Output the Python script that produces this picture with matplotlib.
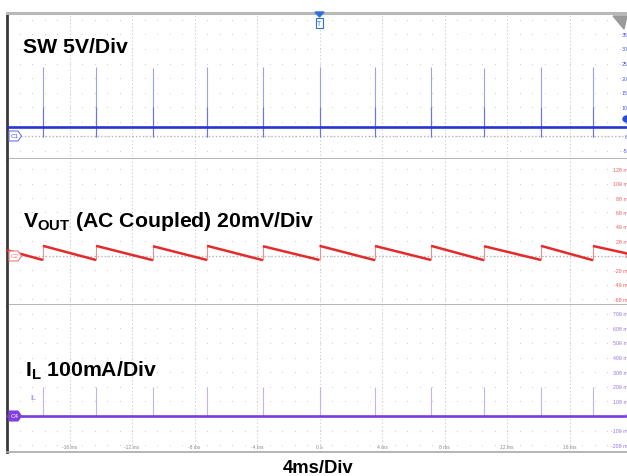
import numpy as np
import matplotlib
matplotlib.use("Agg")
import matplotlib.pyplot as plt
from matplotlib.patches import Polygon, Rectangle, Circle

# ---------------- data ----------------
# switching events (ms), shared by all three channels
event_t = [-17.70, -14.30, -10.66, -7.20, -3.62, 0.0, 3.55, 7.14, 10.53, 14.18, 17.50]

# SW channel (V)
sw_base = 3.1
sw_peak = [23.8, 23.8, 23.6, 23.8, 23.7, 23.8, 23.8, 23.7, 23.6, 23.7, 23.8]
sw_low = -0.3

# VOUT channel (mV, AC coupled) - level just before / just after each jump
vout_before = [-5.5, -5.5, -5.8, -5.5, -5.8, -5.5, -5.8, -5.5, -5.8, -5.5, -5.8]
vout_after = [14.0, 14.0, 13.5, 14.0, 13.5, 14.0, 13.8, 14.0, 13.5, 14.0, 13.8]
vout_start = 8.0    # at -20 ms
vout_end = 2.0      # at +20 ms

# IL channel (mA)
il_base = 0.0
il_peak = [199, 199, 198, 199, 198, 199, 199, 198, 199, 199, 199]

# axis scales / labels
t_min, t_max = -20.0, 20.0
time_ticks = [-16, -12, -8, -4, 0, 4, 8, 12, 16]
time_labels = ["-16 ms", "-12 ms", "-8 ms", "-4 ms", "0 s", "4 ms", "8 ms", "12 ms", "16 ms"]
sw_levels = [35, 30, 25, 20, 15, 10, 5, 0, -5]
sw_labels = ["35", "30", "25", "20", "15", "10", "5", "0", "-5"]
vout_levels = [120, 100, 80, 60, 40, 20, 0, -20, -40, -60]
vout_labels = ["120 m", "100 m", "80 m", "60 m", "40 m", "20 m", "0", "-20 m", "-40 m", "-60 m"]
il_levels = [700, 600, 500, 400, 300, 200, 100, 0, -100, -200]
il_labels = ["700 m", "600 m", "500 m", "400 m", "300 m", "200 m", "100 m", "0", "-100 m", "-200 m"]

# ---------------- figure ----------------
W, H = 627, 477
plt.rcParams['font.family'] = ['Liberation Sans', 'DejaVu Sans']
plt.rcParams['mathtext.fontset'] = 'custom'
plt.rcParams['mathtext.rm'] = 'Liberation Sans:bold'
plt.rcParams['mathtext.it'] = 'Liberation Sans:bold'
plt.rcParams['mathtext.bf'] = 'Liberation Sans:bold'

fig = plt.figure(figsize=(W / 100, H / 100), dpi=100)
fig.patch.set_facecolor('white')


def fx(px):
    return px / W


def fy(py):
    return 1 - py / H


ax_left, ax_right = 7, 632
panes = [(14, 160), (160, 306), (306, 453)]
axes = []
for top, bot in panes:
    ax = fig.add_axes([fx(ax_left), fy(bot), (ax_right - ax_left) / W, (bot - top) / H])
    ax.set_xlim(t_min, t_max)
    ax.set_xticks([])
    ax.set_yticks([])
    for s in ax.spines.values():
        s.set_visible(False)
    ax.spines['left'].set_visible(True)
    ax.spines['left'].set_color('#3a3a3a')
    ax.spines['left'].set_linewidth(2.0)
    ax.spines['bottom'].set_visible(True)
    ax.spines['bottom'].set_color('#a8a8a8')
    ax.spines['bottom'].set_linewidth(1.2)
    ax.set_facecolor('white')
    axes.append(ax)

ax1, ax2, ax3 = axes
ax1.spines['top'].set_visible(True)
ax1.spines['top'].set_color('#b8b8b8')
ax1.spines['top'].set_linewidth(2.2)

ax1.set_ylim(-7.9, 42.4)
ax2.set_ylim(-67.6, 133.8)
ax3.set_ylim(-247, 760)

minor_t = np.arange(t_min, t_max + 0.01, 0.8)
row_sets = [list(range(-5, 41, 5)), list(range(-60, 121, 20)), list(range(-200, 701, 100))]
for ax, rows in zip(axes, row_sets):
    for t in time_ticks:
        ax.axvline(t, color='#d2d2d2', lw=0.8, ls=(0, (1.2, 2.0)), zorder=1)
    tt, rr = np.meshgrid(minor_t, rows)
    ax.scatter(tt.ravel(), rr.ravel(), s=0.5, color='#cdcdcd', lw=0, zorder=1)

# zero reference lines
ax1.axhline(0, color='#b4b4b4', lw=1.0, ls=(0, (1, 1.5)), zorder=1)
ax2.axhline(0, color='#b4b4b4', lw=1.0, ls=(0, (1, 1.5)), zorder=1)

# ---------------- SW trace ----------------
ax1.vlines(event_t, sw_low, sw_peak, color='#9aa1f3', lw=0.8, zorder=2)
ax1.vlines(event_t, sw_low, 10, color='#6a74ea', lw=0.8, zorder=2)
ax1.plot([t_min, t_max], [sw_base, sw_base], color='#2636cf', lw=1.9, zorder=3)

# ---------------- VOUT trace ----------------
seg_start_t = [t_min] + event_t
seg_end_t = event_t + [t_max]
seg_start_v = [vout_start] + vout_after
seg_end_v = vout_before + [vout_end]
for t0, t1, v0, v1 in zip(seg_start_t, seg_end_t, seg_start_v, seg_end_v):
    ax2.plot([t0, t1], [v0, v1], color='#e42a2a', lw=1.8, zorder=3, solid_capstyle='butt')
ax2.vlines(event_t, vout_before, vout_after, color='#f29090', lw=0.8, zorder=2)

# ---------------- IL trace ----------------
ax3.vlines(event_t, il_base, il_peak, color='#c8aef3', lw=0.8, zorder=2)
ax3.plot([t_min, t_max], [il_base, il_base], color='#7a3ae0', lw=1.9, zorder=3)
ax3.text(-18.3, 123, "IL", fontsize=5, color='#a484e6', ha='center', va='center')

# ---------------- right scale labels ----------------
lab_t = (628 - 319.5) / 15.625
for v, s in zip(sw_levels, sw_labels):
    ax1.text(lab_t, v, s, fontsize=3.8, color='#4a58d6', ha='right', va='center', zorder=4)
for v, s in zip(vout_levels, vout_labels):
    ax2.text(lab_t, v, s, fontsize=3.8, color='#ee5a5a', ha='right', va='center', zorder=4)
for v, s in zip(il_levels, il_labels):
    ax3.text(lab_t, v, s, fontsize=3.8, color='#9a72e2', ha='right', va='center', zorder=4)

# time labels
for t, s in zip(time_ticks, time_labels):
    ax3.text(t, -212, s, fontsize=3.6, color='#8c8c8c', ha='center', va='center', zorder=4)

# ---------------- channel markers ----------------
def chan_marker(py, label, edge, face, tcolor):
    pts = [(9, py - 5), (18, py - 5), (21.5, py), (18, py + 5), (9, py + 5)]
    poly = Polygon([(fx(x), fy(y)) for x, y in pts], closed=True, transform=fig.transFigure,
                   facecolor=face, edgecolor=edge, lw=0.8, zorder=10)
    fig.add_artist(poly)
    fig.text(fx(14.5), fy(py), label, fontsize=4.5, color=tcolor, ha='center', va='center', zorder=11)

chan_marker(137, "C1", '#6a7ae8', 'white', '#4a5ad8')
chan_marker(257, "C2", '#f07c7c', 'white', '#f07c7c')
chan_marker(417, "C4", '#8040e0', '#8040e0', 'white')

# trigger marker
tri = Polygon([(fx(315), fy(13)), (fx(324), fy(13)), (fx(319.5), fy(18))], closed=True,
              transform=fig.transFigure, facecolor='#2f6fd8', edgecolor='#2f6fd8', zorder=10)
fig.add_artist(tri)
box = Rectangle((fx(316), fy(29)), 7 / W, 10 / H, transform=fig.transFigure,
                facecolor='white', edgecolor='#2f6fd8', lw=0.8, zorder=10)
fig.add_artist(box)
fig.text(fx(319.5), fy(24), "T", fontsize=5, color='#2f6fd8', ha='center', va='center', zorder=11)

# top-right grey triangle and right level marker
gtri = Polygon([(fx(613), fy(17)), (fx(627), fy(17)), (fx(624), fy(30))], closed=True,
               transform=fig.transFigure, facecolor='#9a9a9a', edgecolor='#9a9a9a', zorder=10)
fig.add_artist(gtri)
circ = Circle((fx(627), fy(120)), 4 / W, transform=fig.transFigure, facecolor='#2a4ad8',
              edgecolor='#2a4ad8', zorder=10)
fig.add_artist(circ)

# ---------------- annotations ----------------
fig.text(fx(23), fy(53), "SW 5V/Div", fontsize=15.3, fontweight='bold', color='black', va='baseline')
fig.text(fx(23), fy(227), r"V$_{\mathrm{OUT}}$ (AC Coupled) 20mV/Div", fontsize=15.3,
         fontweight='bold', color='black', va='baseline')
fig.text(fx(25), fy(377), r"I$_{\mathrm{L}}$ 100mA/Div", fontsize=15.3, fontweight='bold',
         color='black', va='baseline')
fig.text(fx(318), fy(473), "4ms/Div", fontsize=13.3, fontweight='bold', color='black',
         ha='center', va='baseline')

fig.savefig("out.png", dpi=100)
